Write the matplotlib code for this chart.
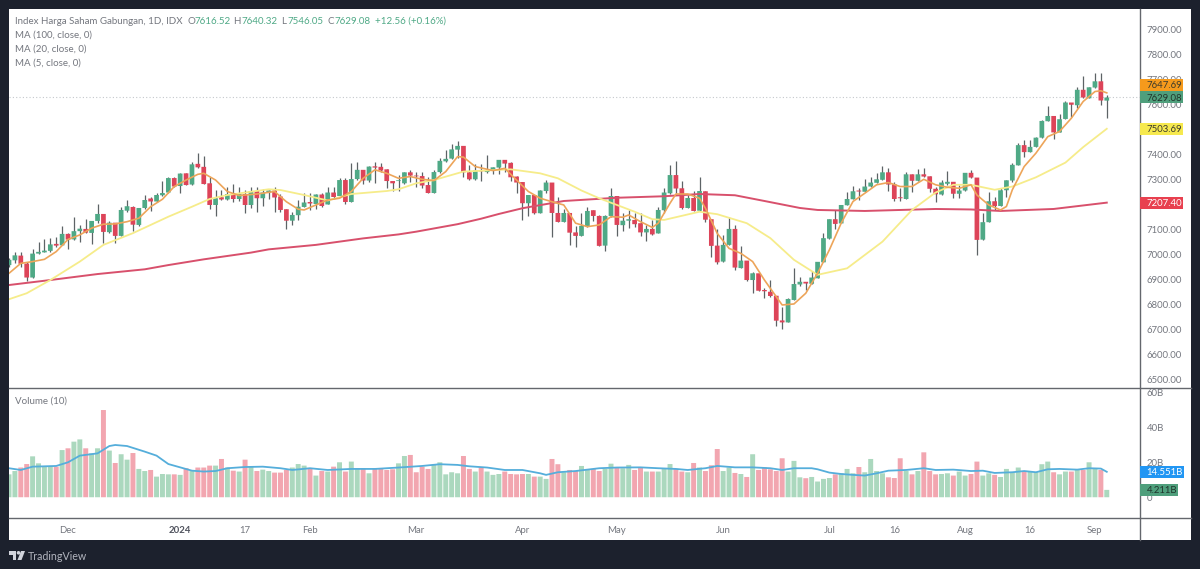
import matplotlib
matplotlib.use('Agg')
import matplotlib.pyplot as plt
from matplotlib.patches import Polygon, Circle, Rectangle

plt.rcParams['font.family'] = ['Lato', 'DejaVu Sans']

# daily candles, oldest first
opens = [6957,6976,6995,6963,6907,7003,7008,7014,7042,7036,
         7082,7060,7093,7102,7086,7134,7162,7089,7127,7074,
         7175,7190,7118,7186,7224,7212,7237,7248,7306,7274,
         7325,7280,7363,7351,7285,7198,7229,7220,7242,7222,
         7242,7198,7254,7225,7248,7256,7232,7181,7135,7157,
         7190,7210,7202,7240,7200,7248,7234,7298,7210,7302,
         7339,7296,7353,7351,7341,7294,7294,7285,7329,7316,
         7314,7278,7246,7330,7373,7384,7420,7435,7329,7301,
         7338,7330,7338,7348,7379,7367,7312,7290,7205,7238,
         7165,7254,7288,7166,7130,7166,7088,7074,7111,7177,
         7154,7035,7154,7234,7117,7135,7138,7125,7088,7102,
         7084,7177,7245,7318,7265,7186,7226,7175,7253,7141,
         7035,6971,7038,7102,6945,6975,6897,6924,6857,6850,
         6834,6735,6727,6817,6879,6890,6882,6904,6968,7063,
         7141,7124,7197,7221,7256,7251,7272,7287,7299,7329,
         7281,7229,7222,7321,7295,7321,7313,7263,7240,7283,
         7291,7243,7256,7327,7308,7059,7129,7213,7194,7257,
         7296,7357,7438,7410,7431,7468,7534,7555,7489,7543,
         7609,7598,7660,7626,7669,7694,7616.52]
highs = [6984,7008,7011,6971,7020,7051,7063,7067,7071,7114,
         7087,7151,7118,7141,7135,7202,7162,7135,7127,7189,
         7216,7194,7187,7237,7232,7248,7296,7309,7312,7325,
         7328,7371,7405,7395,7312,7258,7258,7272,7281,7269,
         7258,7272,7272,7261,7258,7272,7242,7181,7170,7216,
         7245,7248,7242,7245,7269,7272,7308,7305,7365,7372,
         7339,7355,7369,7365,7341,7294,7318,7332,7338,7332,
         7329,7312,7338,7385,7419,7443,7456,7435,7358,7361,
         7361,7399,7352,7379,7379,7372,7314,7292,7238,7238,
         7258,7298,7288,7231,7181,7166,7114,7165,7191,7178,
         7157,7157,7265,7234,7165,7178,7165,7165,7118,7138,
         7191,7265,7358,7376,7294,7238,7254,7309,7253,7141,
         7100,7078,7149,7118,7034,6975,6931,6927,6867,6897,
         6834,6790,6824,6944,6911,6890,6935,6971,7085,7141,
         7178,7198,7249,7275,7265,7301,7312,7328,7355,7345,
         7292,7265,7332,7321,7341,7345,7313,7272,7299,7335,
         7291,7279,7327,7339,7308,7165,7249,7232,7268,7297,
         7368,7446,7459,7459,7470,7537,7595,7555,7562,7617,
         7609,7673,7717,7670,7729,7729,7640.32]
lows = [6951,6967,6951,6895,6907,7003,7008,7011,7028,7036,
        7022,7058,7051,7085,7042,7127,7047,7085,7047,7074,
        7171,7094,7114,7183,7175,7208,7234,7245,7269,7245,
        7278,7278,7348,7281,7181,7154,7218,7218,7208,7212,
        7165,7185,7171,7194,7221,7171,7171,7101,7118,7138,
        7189,7178,7181,7189,7200,7221,7234,7200,7210,7298,
        7282,7292,7288,7332,7265,7254,7256,7282,7292,7272,
        7265,7245,7245,7328,7372,7381,7385,7312,7298,7298,
        7296,7328,7322,7321,7332,7296,7245,7139,7154,7161,
        7165,7245,7068,7130,7130,7038,7028,7074,7108,7134,
        7034,7015,7149,7074,7095,7104,7111,7074,7055,7078,
        7084,7167,7242,7245,7181,7185,7174,7174,7129,6988,
        6961,6971,7038,6937,6944,6895,6846,6852,6824,6830,
        6713,6699,6727,6817,6874,6857,6882,6904,6968,7063,
        7102,7124,7197,7221,7218,7251,7272,7287,7299,7256,
        7214,7212,7222,7252,7295,7309,7252,7209,7240,7279,
        7228,7228,7256,7308,6998,7059,7129,7178,7194,7232,
        7292,7357,7390,7410,7431,7468,7534,7462,7489,7543,
        7550,7586,7629,7626,7669,7600,7546.05]
closes = [6978,6996,6962,6907,7003,7010,7015,7040,7035,7082,
          7059,7093,7103,7087,7134,7162,7090,7127,7074,7178,
          7193,7119,7186,7218,7212,7238,7246,7306,7272,7324,
          7278,7361,7349,7282,7198,7225,7220,7242,7222,7242,
          7198,7254,7225,7248,7256,7228,7178,7135,7158,7191,
          7208,7204,7240,7194,7248,7230,7298,7210,7302,7339,
          7296,7352,7348,7336,7294,7285,7296,7329,7316,7313,
          7276,7246,7330,7375,7383,7421,7435,7329,7301,7336,
          7333,7338,7349,7379,7364,7309,7288,7205,7238,7165,
          7256,7288,7166,7130,7166,7087,7074,7114,7174,7154,
          7034,7154,7234,7118,7135,7141,7121,7088,7102,7080,
          7178,7248,7318,7264,7186,7226,7174,7254,7139,7034,
          6968,7038,7102,6947,6975,6897,6924,6854,6852,6833,
          6734,6727,6821,6881,6890,6883,6907,6970,7065,7141,
          7122,7198,7222,7253,7252,7272,7288,7301,7329,7280,
          7222,7225,7321,7295,7321,7312,7263,7241,7288,7291,
          7243,7256,7327,7308,7058,7129,7213,7194,7257,7297,
          7359,7438,7410,7431,7468,7535,7555,7489,7542,7609,
          7600,7660,7629,7670,7694,7617,7629.08]

# volume in billions
volumes = [13.1,15.0,17.0,19.0,23.4,19.4,17.5,17.5,17.5,27.0,
           28.0,31.8,33.1,28.0,25.1,28.0,49.9,26.7,19.6,24.6,
           21.5,25.3,16.2,15.0,15.6,11.8,13.3,13.1,13.1,12.8,
           16.6,15.0,17.0,17.0,18.1,18.1,21.9,17.0,15.2,14.7,
           21.5,17.5,15.0,15.8,15.0,14.1,14.1,15.6,17.0,19.0,
           18.1,16.6,12.4,15.0,14.7,17.5,20.0,14.7,20.4,16.6,
           16.6,13.7,16.6,16.6,15.6,16.0,19.4,
           23.6,24.2,14.3,17.5,16.2,18.5,20.0,13.1,14.3,13.7,
           23.6,16.2,14.7,17.0,14.7,12.8,13.3,14.7,13.3,13.1,
           13.3,13.3,11.8,11.8,10.5,21.9,18.9,14.3,15.6,15.0,
           17.9,15.6,16.2,15.0,16.2,19.2,17.0,16.6,18.5,15.6,
           17.0,14.7,14.7,14.7,16.6,19.0,16.2,14.7,14.3,19.6,
           17.0,15.0,18.3,27.6,15.0,17.0,13.9,13.3,11.6,24.6,
           15.6,17.0,16.0,15.0,22.3,14.7,20.8,11.4,
           10.9,11.6,9.0,10.5,11.0,13.1,13.7,16.2,13.7,17.3,
           14.3,21.9,15.0,13.7,11.4,11.0,22.3,15.0,13.1,15.0,
           25.7,15.0,13.1,13.3,13.7,12.4,14.7,12.4,13.3,20.4,
           12.4,13.7,12.8,11.6,16.2,14.3,17.0,15.0,15.0,14.3,
           18.9,20.4,14.3,13.1,14.7,14.7,15.6,15.6,20.0,16.2,
           15.6,4.211]

# moving averages
ma100_x = [0,7,15,23,27,33,41,44,52,60,66,69,76,80,83,87,94,103,111,117,123,128,134,137,145,157,163,168,177,186]
ma100_y = [6877,6897,6921,6940,6957,6980,7007,7020,7038,7064,7080,7091,7121,7143,7162,7185,7214,7227,7233,7242,7237,7214,7186,7178,7174,7182,7180,7174,7182,7207.40]
ma20_x = [0,3,7,12,16,21,27,31,34,37,44,46,50,54,58,64,66,69,72,77,85,90,93,97,100,106,109,111,117,120,125,129,133,137,142,148,153,157,160,163,167,170,174,179,182,186]
ma20_y = [6820,6844,6897,6971,7038,7085,7151,7191,7222,7238,7261,7258,7238,7216,7242,7254,7261,7285,7298,7332,7341,7325,7305,7256,7225,7171,7141,7138,7171,7161,7125,7065,6978,6918,6944,7051,7178,7248,7279,7279,7259,7272,7309,7368,7430,7503.69]
ma5_x = [0,2,4,6,8,10,12,14,16,18,20,22,24,26,28,30,32,33,35,37,39,42,45,47,49,50,52,54,56,58,60,62,64,66,68,70,72,74,76,77,79,82,84,86,88,90,92,94,96,98,100,102,104,105,107,109,110,112,113,115,117,118,120,122,124,126,128,130,131,133,135,137,139,141,143,145,147,149,151,153,155,157,159,161,163,164,166,168,169,170,171,172,174,176,178,180,182,184,185,186]
ma5_y = [6924,6964,6971,6980,7011,7060,7078,7105,7121,7122,7131,7145,7191,7221,7272,7298,7321,7325,7298,7252,7236,7242,7252,7211,7181,7178,7198,7218,7225,7252,7305,7339,7325,7305,7312,7301,7296,7332,7392,7390,7352,7336,7345,7298,7252,7225,7211,7198,7125,7111,7118,7151,7149,7158,7131,7108,7125,7205,7242,7242,7225,7185,7084,7024,7004,6971,6897,6830,6797,6801,6844,6924,7018,7125,7212,7245,7279,7288,7272,7272,7301,7279,7269,7265,7279,7238,7198,7178,7192,7259,7305,7352,7406,7472,7493,7546,7613,7653,7656,7647.69]
vol_ma_x = [0,2,4,8,10,12,15,17,18,20,23,25,27,29,31,33,35,37,40,43,46,48,51,54,58,62,66,70,73,76,78,81,84,87,90,91,93,96,100,103,107,110,113,115,118,120,123,126,129,131,133,136,137,139,141,143,145,147,149,152,155,157,160,163,165,167,170,172,174,176,178,181,183,185,186]
vol_ma_y = [16.6,15.6,17.5,17.9,20.0,23.8,25.1,29.3,29.9,29.3,26.1,23.8,19.0,17.1,15.2,14.7,15.0,16.6,17.3,17.5,16.6,15.6,16.6,15.6,16.2,16.2,17.0,17.9,18.9,18.5,17.7,17.0,15.6,15.6,13.7,12.8,14.3,15.0,16.6,17.0,17.1,16.6,16.2,15.6,16.6,17.9,17.1,17.1,16.6,15.6,16.6,16.6,16.0,14.1,13.3,12.8,12.4,13.7,15.2,15.6,16.6,15.6,15.8,15.0,15.2,13.9,14.3,15.0,14.3,16.0,16.2,15.8,16.6,16.4,14.551]

# axis labels, 7200 and 7500 sit behind the value tags and are not shown
price_ticks = [6500,6600,6700,6800,6900,7000,7100,7300,7400,7600,7700,7800,7900]
vol_ticks = [0, 20, 40, 60]
vol_tick_labels = ['0', '20B', '40B', '60B']
date_pos = [10, 29, 40, 51, 69, 87, 103, 121, 139, 150, 162, 173, 184]
date_labels = ['Dec', '2024', '17', 'Feb', 'Mar', 'Apr', 'May', 'Jun', 'Jul', '16', 'Aug', '16', 'Sep']

BG = '#1c212d'
UP = '#4fa986'
DOWN = '#dd4459'
UP_VOL = '#abd8be'
DOWN_VOL = '#f2a6b0'
GREY = '#74777f'
LINE = '#64676d'
TICK_SIZE = 6.9

W, H = 1200, 569
fig = plt.figure(figsize=(W / 100, H / 100), dpi=100, facecolor=BG)

def box(left, top, right, bottom):
    return [left / W, 1 - bottom / H, (right - left) / W, (bottom - top) / H]

# frame drawn in pixel units
frame = fig.add_axes([0, 0, 1, 1], zorder=0)
frame.set_xlim(0, W)
frame.set_ylim(H, 0)
frame.axis('off')
frame.add_patch(Rectangle((9, 9), 1182, 531, fc='white', ec='none'))
frame.plot([9, 1191], [387.5, 387.5], color=LINE, lw=1)
frame.plot([9, 1191], [517.5, 517.5], color=LINE, lw=1)
frame.plot([1139.5, 1139.5], [9, 540], color=LINE, lw=1)
frame.add_patch(Polygon([(8.5, 551), (16, 551), (16, 560), (12.5, 560), (12.5, 554.5), (8.5, 554.5)], fc='#d1d4dc', ec='none'))
frame.add_patch(Circle((18.5, 552.8), 1.8, fc='#d1d4dc', ec='none'))
frame.add_patch(Polygon([(17.5, 560), (21, 551), (25, 551), (21.5, 560)], fc='#d1d4dc', ec='none'))
frame.text(28, 556, 'TradingView', color='#b2b5be', fontsize=7.7, va='center')

# header
def head(x, y, s, c=GREY):
    frame.text(x, y, s, color=c, fontsize=7.05, va='center')

head(15, 21.5, 'Index Harga Saham Gabungan, 1D, IDX')
for x, s, c in [(187, 'O', GREY), (194, '7616.52', UP), (233, 'H', GREY), (241, '7640.32', UP),
                (281, 'L', GREY), (287, '7546.05', UP), (327, 'C', GREY), (334, '7629.08', UP),
                (375, '+12.56 (+0.16%)', UP)]:
    head(x, 21.5, s, c)
head(15, 35.5, 'MA (100, close, 0)')
head(15, 49.5, 'MA (20, close, 0)')
head(15, 63, 'MA (5, close, 0)')
head(15, 401, 'Volume (10)')

n = len(closes)
idx = list(range(n))
up = [c >= o for o, c in zip(opens, closes)]
xmax = (1139.5 - 9) / 5.902

# price pane
ax = fig.add_axes(box(9, 9, 1139.5, 387), zorder=1)
ax.patch.set_visible(False)
ax.set_xlim(0, xmax)
ax.set_ylim(6468, 7984)
bottoms = [min(o, c) for o, c in zip(opens, closes)]
heights = [max(abs(c - o), 3) for o, c in zip(opens, closes)]
colors = [UP if u else DOWN for u in up]
ax.vlines(idx, lows, highs, colors='#5d6366', lw=0.9, zorder=2)
bars = ax.bar(idx, heights, bottom=bottoms, width=0.8, color=colors, zorder=3)
for b in bars:
    b.set_snap(False)
ax.axhline(closes[-1], color='#c4c8cc', lw=0.8, ls=(0, (1, 2)), zorder=1)
ax.plot(ma100_x, ma100_y, color='#d8506c', lw=1.4, zorder=4)
ax.plot(ma20_x, ma20_y, color='#f6ec8a', lw=1.3, zorder=4)
ax.plot(ma5_x, ma5_y, color='#eda55a', lw=1.2, zorder=5)

ax.yaxis.tick_right()
ax.set_yticks(price_ticks)
ax.set_yticklabels(['%.2f' % p for p in price_ticks])
ax.tick_params(axis='y', length=0, pad=5, labelsize=TICK_SIZE, labelcolor=GREY)
ax.set_xticks([])
for s in ax.spines.values():
    s.set_visible(False)

# volume pane
vax = fig.add_axes(box(9, 388, 1139.5, 517), zorder=1)
vax.patch.set_visible(False)
vax.set_xlim(0, xmax)
vax.set_ylim(-11.3, 62.5)
vbars = vax.bar(idx, volumes, width=0.84, color=[UP_VOL if u else DOWN_VOL for u in up], zorder=2)
for b in vbars:
    b.set_snap(False)
vax.plot(vol_ma_x, vol_ma_y, color='#55aedb', lw=1.3, zorder=3)
vax.yaxis.tick_right()
vax.set_yticks(vol_ticks)
vax.set_yticklabels(vol_tick_labels)
vax.tick_params(axis='y', length=0, pad=5, labelsize=TICK_SIZE, labelcolor=GREY)
vax.set_xticks(date_pos)
vax.set_xticklabels(date_labels)
vax.tick_params(axis='x', length=0, pad=6.5, labelsize=TICK_SIZE, labelcolor=GREY)
for lab in vax.get_xticklabels():
    if lab.get_text() == '2024':
        lab.set_fontweight('bold')
        lab.set_color('#50535e')
for s in vax.spines.values():
    s.set_visible(False)

# value tags on the right scale, over the tick labels
over = fig.add_axes([0, 0, 1, 1], zorder=5)
over.set_xlim(0, W)
over.set_ylim(H, 0)
over.axis('off')

def tag(axis, value, s, right, fc, tc, shift=0):
    yc = H - axis.transData.transform((0, value))[1] + shift
    over.add_patch(Rectangle((1140, yc - 6), right - 1140, 12, fc=fc, ec='none'))
    over.text(1146.5, yc, s, fontsize=TICK_SIZE, color=tc, va='center_baseline')

tag(ax, ma5_y[-1], '%.2f' % ma5_y[-1], 1183, '#f59a1c', '#3b3a2c', shift=-8)
tag(ax, closes[-1], '%.2f' % closes[-1], 1183, '#4f9f7c', '#20352c')
tag(ax, ma20_y[-1], '%.2f' % ma20_y[-1], 1183, '#f6e94e', '#3b3a2c')
tag(ax, ma100_y[-1], '%.2f' % ma100_y[-1], 1183, '#e8404f', 'white')
tag(vax, vol_ma_y[-1], '14.551B', 1184, '#2196f3', 'white')
tag(vax, volumes[-1], '4.211B', 1178, '#4f9f7c', '#20352c')

fig.savefig('out.png', dpi=100, facecolor=BG)
